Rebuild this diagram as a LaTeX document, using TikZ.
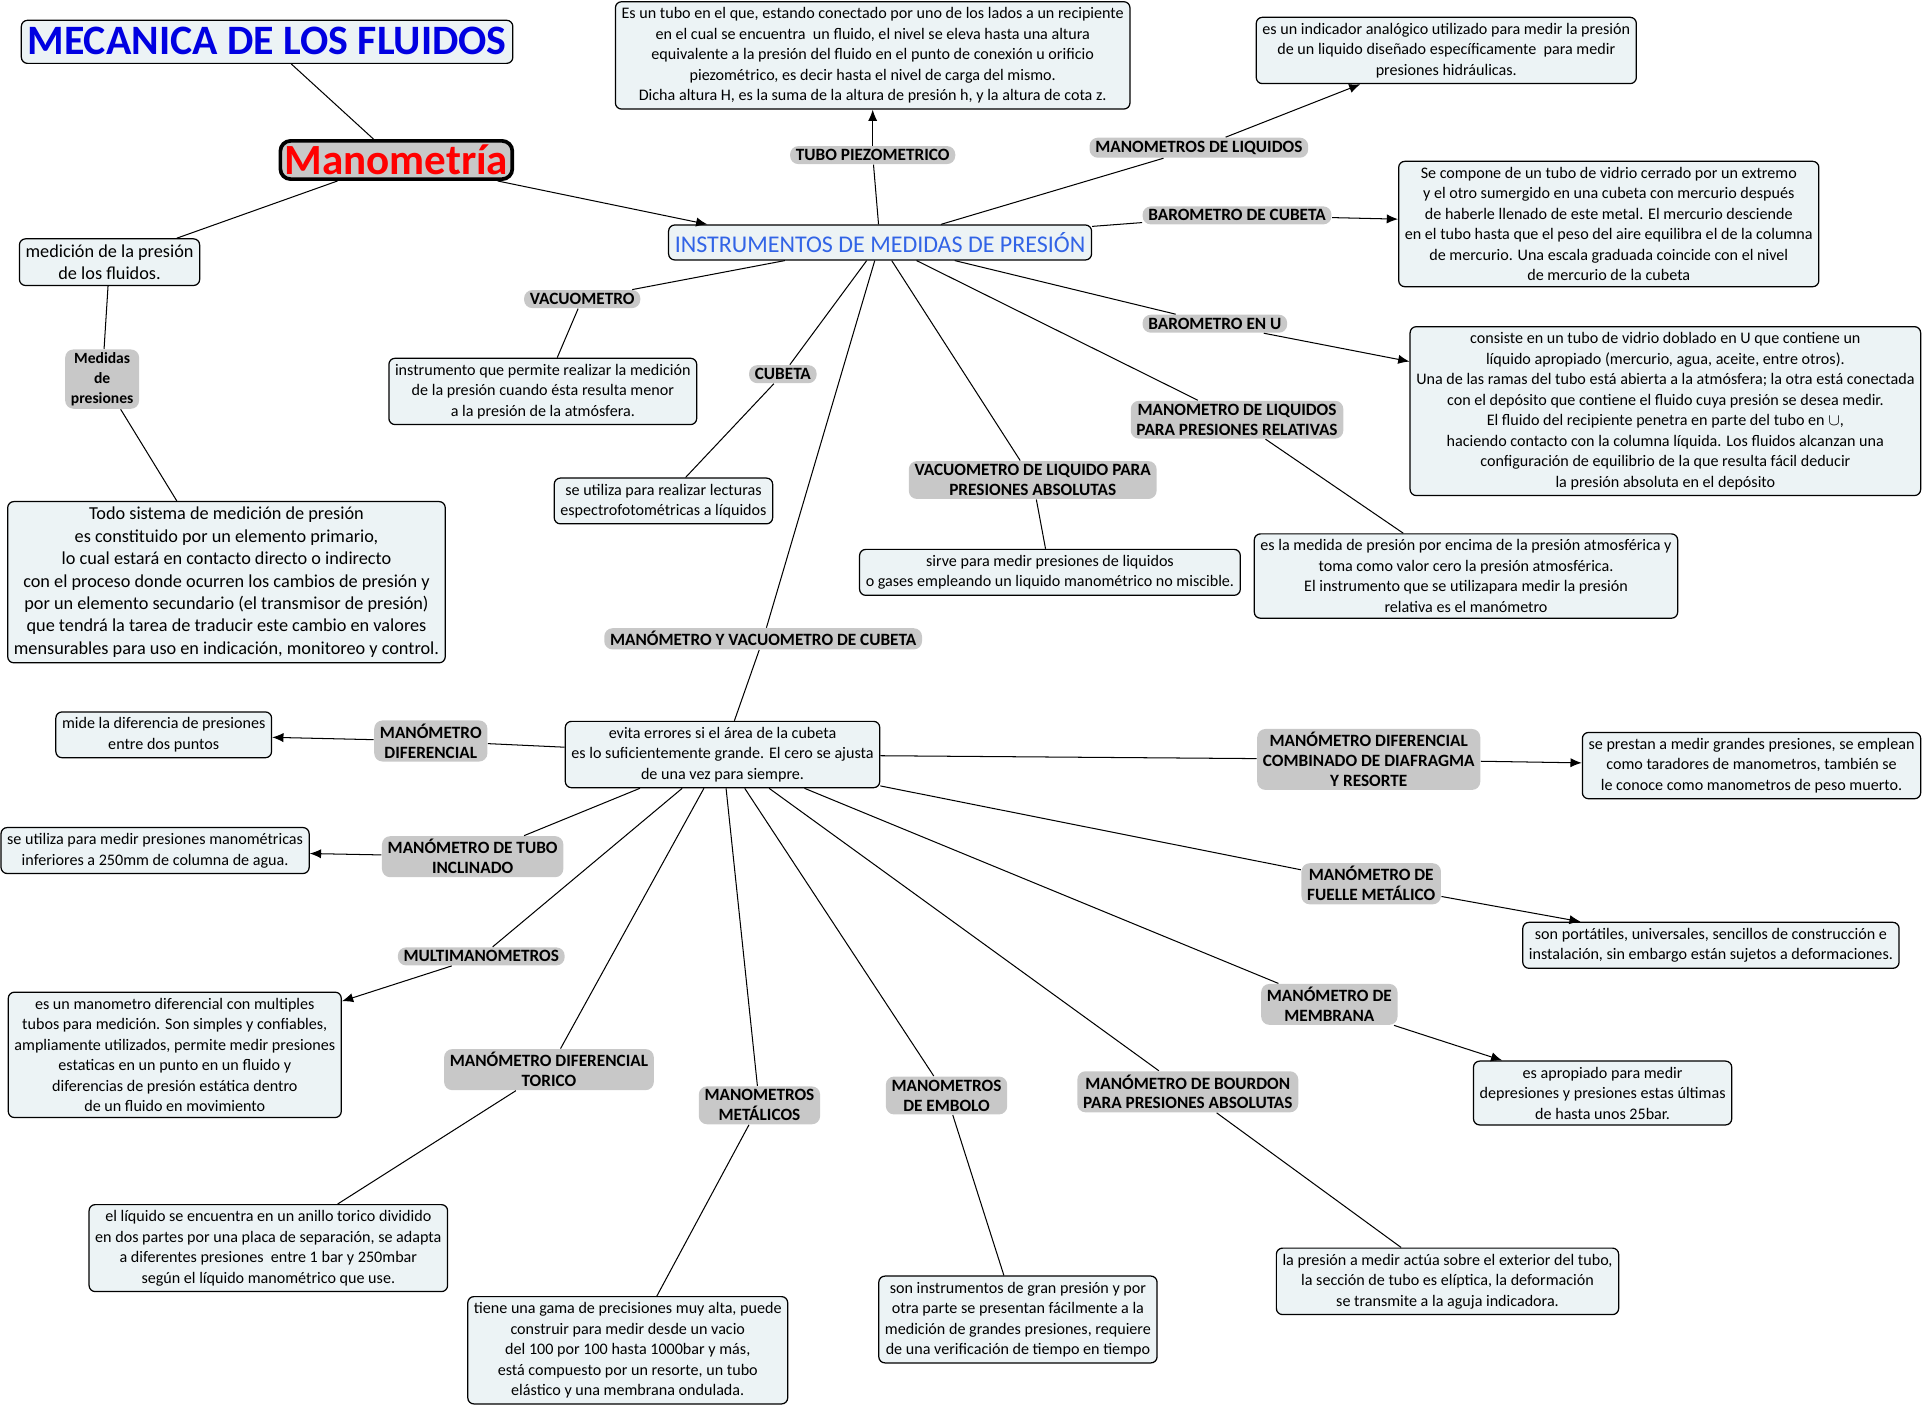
\documentclass[tikz,border=0pt]{standalone}
\usepackage{fontspec}
\setmainfont{Carlito}
\usepackage{tikz}
\usetikzlibrary{arrows.meta,calc}

\definecolor{boxfill}{RGB}{236,243,245}
\definecolor{lblfill}{RGB}{200,200,200}
\definecolor{titleblue}{RGB}{0,0,225}
\definecolor{instblue}{RGB}{50,100,230}

\newcommand{\txtfont}{\fontsize{7.85}{10}\selectfont}
\newcommand{\bigtxtfont}{\fontsize{8.9}{10.9}\selectfont}
\newcommand{\lblfont}{\fontsize{8.4}{9.7}\selectfont\bfseries}

\begin{document}
\begin{tikzpicture}[x=0.6pt, y=-0.6pt, line width=0.5pt,
        box/.style={draw, line width=0.6pt, fill=boxfill, rounded corners=3pt, align=center, inner xsep=3pt, inner ysep=2.8pt, font=\txtfont},
        lbl/.style={fill=lblfill, rounded corners=4pt, align=center, inner xsep=2.8pt, inner ysep=1.6pt, font=\lblfont},
        arr/.style={-{Latex[length=5.5pt,width=4.5pt]}}]
        \useasboundingbox (0,0) rectangle (1568,1144);

        \node[box, font=\fontsize{20.4}{22}\selectfont\bfseries, text=titleblue, text height=14pt, text depth=2pt, inner ysep=2.5pt] (title) at (217,34) {MECANICA DE LOS FLUIDOS};
        \node[draw, line width=1.8pt, fill=lblfill, rounded corners=5pt, text=red, font=\fontsize{21}{24}\selectfont\bfseries, inner sep=2pt] (mano) at (322,130) {Manometría};
        \node[box, font=\bigtxtfont] (medicion) at (89,213) {medición de la presión\\de los fluidos.};
        \node[lbl, font=\fontsize{7.6}{9.6}\selectfont\bfseries] (medidas) at (83,308) {Medidas\\de\\presiones};
        \node[box, font=\bigtxtfont] (sistema) at (184,473) {Todo sistema de medición de presión\\es constituido por un elemento primario,\\lo cual estará en contacto directo o indirecto\\con el proceso donde ocurren los cambios de presión y\\por un elemento secundario (el transmisor de presión)\\que tendrá la tarea de traducir este cambio en valores\\mensurables para uso en indicación, monitoreo y control.};

        \node[box, font=\fontsize{11.7}{13}\selectfont, text=instblue, inner ysep=3.6pt] (instr) at (715,197) {INSTRUMENTOS DE MEDIDAS DE PRESIÓN};

        \node[box] (piezotxt) at (709,45) {Es un tubo en el que, estando conectado por uno de los lados a un recipiente\\en el cual se encuentra \ un fluido, el nivel se eleva hasta una altura\\equivalente a la presión del fluido en el punto de conexión u orificio\\piezométrico, es decir hasta el nivel de carga del mismo.\\Dicha altura H, es la suma de la altura de presión h, y la altura de cota z.};
        \node[lbl] (piezo) at (709,126) {TUBO PIEZOMETRICO};
        \node[lbl] (mliq) at (974,120) {MANOMETROS DE LIQUIDOS};
        \node[box] (mliqtxt) at (1175,41) {es un indicador analógico utilizado para medir la presión\\de un liquido diseñado específicamente \ para medir\\presiones hidráulicas.};
        \node[lbl] (bcub) at (1005,175) {BAROMETRO DE CUBETA};
        \node[box] (bcubtxt) at (1307,182) {Se compone de un tubo de vidrio cerrado por un extremo\\y el otro sumergido en una cubeta con mercurio después\\de haberle llenado de este metal. El mercurio desciende\\en el tubo hasta que el peso del aire equilibra el de la columna\\de mercurio. Una escala graduada coincide con el nivel\\de mercurio de la cubeta};
        \node[lbl] (bu) at (987,263) {BAROMETRO EN U};
        \node[box] (butxt) at (1353,334) {consiste en un tubo de vidrio doblado en U que contiene un\\líquido apropiado (mercurio, agua, aceite, entre otros).\\Una de las ramas del tubo está abierta a la atmósfera; la otra está conectada\\con el depósito que contiene el fluido cuya presión se desea medir.\\El fluido del recipiente penetra en parte del tubo en $\cup$,\\haciendo contacto con la columna líquida. Los fluidos alcanzan una\\configuración de equilibrio de la que resulta fácil deducir\\la presión absoluta en el depósito};
        \node[lbl] (mrel) at (1005,341) {MANOMETRO DE LIQUIDOS\\PARA PRESIONES RELATIVAS};
        \node[box] (mreltxt) at (1191,468) {es la medida de presión por encima de la presión atmosférica y\\toma como valor cero la presión atmosférica.\\El instrumento que se utilizapara medir la presión\\relativa es el manómetro};
        \node[lbl] (vliq) at (839,390) {VACUOMETRO DE LIQUIDO PARA\\PRESIONES ABSOLUTAS};
        \node[box] (vliqtxt) at (853,465) {sirve para medir presiones de liquidos\\o gases empleando un liquido manométrico no miscible.};
        \node[lbl] (vac) at (473,243) {VACUOMETRO};
        \node[box] (vactxt) at (441,318) {instrumento que permite realizar la medición\\de la presión cuando ésta resulta menor\\a la presión de la atmósfera.};
        \node[lbl] (cub) at (636,304) {CUBETA};
        \node[box] (cubtxt) at (539,407) {se utiliza para realizar lecturas\\espectrofotométricas a líquidos};
        \node[lbl] (mvc) at (620,519) {MANÓMETRO Y VACUOMETRO DE CUBETA};
        \node[box] (evita) at (587,613) {evita errores si el área de la cubeta\\es lo suficientemente grande. El cero se ajusta\\de una vez para siempre.};

        \node[lbl] (mdif) at (350,602) {MANÓMETRO\\DIFERENCIAL};
        \node[box] (mdiftxt) at (133,597) {mide la diferencia de presiones\\entre dos puntos};
        \node[lbl] (mti) at (384,696) {MANÓMETRO DE TUBO\\INCLINADO};
        \node[box] (mtitxt) at (126,691) {se utiliza para medir presiones manométricas\\inferiores a 250mm de columna de agua.};
        \node[lbl] (multi) at (391,777) {MULTIMANOMETROS};
        \node[box] (multitxt) at (142,857) {es un manometro diferencial con multiples\\tubos para medición. Son simples y confiables,\\ampliamente utilizados, permite medir presiones\\estaticas en un punto en un fluido y\\diferencias de presión estática dentro\\de un fluido en movimiento};
        \node[lbl] (tor) at (446,869) {MANÓMETRO DIFERENCIAL\\TORICO};
        \node[box] (tortxt) at (218,1014) {el líquido se encuentra en un anillo torico dividido\\en dos partes por una placa de separación, se adapta\\a diferentes presiones \ entre 1 bar y 250mbar\\según el líquido manométrico que use.};
        \node[lbl] (met) at (617,898) {MANOMETROS\\METÁLICOS};
        \node[box] (mettxt) at (510,1097) {tiene una gama de precisiones muy alta, puede\\construir para medir desde un vacio\\del 100 por 100 hasta 1000bar y más,\\está compuesto por un resorte, un tubo\\elástico y una membrana ondulada.};
        \node[lbl] (emb) at (769,890) {MANOMETROS\\DE EMBOLO};
        \node[box] (embtxt) at (827,1072) {son instrumentos de gran presión y por\\otra parte se presentan fácilmente a la\\medición de grandes presiones, requiere\\de una verificación de tiempo en tiempo};
        \node[lbl] (bour) at (965,887) {MANÓMETRO DE BOURDON\\PARA PRESIONES ABSOLUTAS};
        \node[box] (bourtxt) at (1176,1041) {la presión a medir actúa sobre el exterior del tubo,\\la sección de tubo es elíptica, la deformación\\se transmite a la aguja indicadora.};
        \node[lbl] (memb) at (1080,816) {MANÓMETRO DE\\MEMBRANA};
        \node[box] (membtxt) at (1302,888) {es apropiado para medir\\depresiones y presiones estas últimas\\de hasta unos 25bar.};
        \node[lbl] (fue) at (1114,718) {MANÓMETRO DE\\FUELLE METÁLICO};
        \node[box] (fuetxt) at (1390,768) {son portátiles, universales, sencillos de construcción e\\instalación, sin embargo están sujetos a deformaciones.};
        \node[lbl] (comb) at (1112,617) {MANÓMETRO DIFERENCIAL\\COMBINADO DE DIAFRAGMA\\Y RESORTE};
        \node[box] (combtxt) at (1423,622) {se prestan a medir grandes presiones, se emplean\\como taradores de manometros, también se\\le conoce como manometros de peso muerto.};

        \draw (title) -- (mano);
        \draw (mano) -- (medicion);
        \draw (medicion) -- (medidas);
        \draw (medidas) -- (sistema);
        \draw[arr] (mano) -- ($(instr.north west)+(32,0)$);

        \draw (instr) -- (piezo);
        \draw[arr] (piezo) -- (piezotxt);
        \draw (instr) -- (mliq);
        \draw[arr] (mliq) -- (mliqtxt);
        \draw (instr) -- (bcub);
        \draw[arr] (bcub) -- (bcubtxt);
        \draw (instr) -- (bu);
        \draw[arr] (bu) -- (butxt);
        \draw (instr) -- (mrel);
        \draw (mrel) -- (mreltxt);
        \draw (instr) -- (vliq);
        \draw (vliq) -- (vliqtxt);
        \draw (instr) -- (vac);
        \draw (vac) -- (vactxt);
        \draw (instr) -- (cub);
        \draw (cub) -- (cubtxt);
        \draw (instr) -- (mvc);
        \draw (mvc) -- (evita);

        \draw (evita) -- (mdif);
        \draw[arr] (mdif) -- (mdiftxt);
        \draw (evita) -- (mti);
        \draw[arr] (mti) -- (mtitxt);
        \draw (evita) -- (multi);
        \draw[arr] (multi) -- (multitxt);
        \draw (evita) -- (tor);
        \draw (tor) -- (tortxt);
        \draw (evita) -- (met);
        \draw (met) -- (mettxt);
        \draw (evita) -- (emb);
        \draw (emb) -- (embtxt);
        \draw (evita) -- (bour);
        \draw (bour) -- (bourtxt);
        \draw (evita) -- (memb);
        \draw[arr] (memb) -- (membtxt);
        \draw (evita) -- (fue);
        \draw[arr] (fue) -- (fuetxt);
        \draw (evita) -- (comb);
        \draw[arr] (comb) -- (combtxt);
\end{tikzpicture}
\end{document}
